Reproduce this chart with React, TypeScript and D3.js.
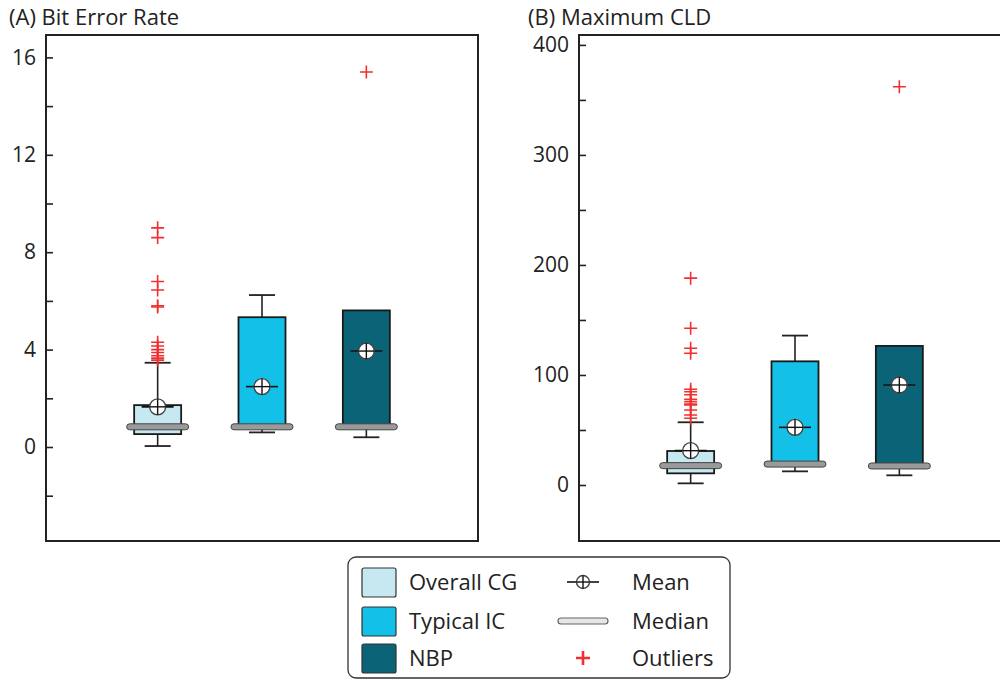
import React, { useEffect, useRef } from "react";
import * as d3 from "d3";

// groups shown in each panel
const groups = ["Overall CG", "Typical IC", "NBP"];
const groupColors = ["#c6e8f1", "#12c0e8", "#0b6378"];

// (A) Bit Error Rate box statistics
const berLow = [0.04, 0.6, 0.4];
const berQ1 = [0.53, 0.83, 0.83];
const berMedian = [0.83, 0.83, 0.83];
const berQ3 = [1.72, 5.33, 5.61];
const berHigh = [3.46, 6.24, 5.61];
const berMean = [1.65, 2.48, 3.94];
const berOutliers = [
  [9.0, 8.6, 6.8, 6.45, 5.8, 5.75, 4.3, 4.15, 4.0, 3.88, 3.75, 3.65, 3.57],
  [],
  [15.4],
];
const berMajorTicks = [0, 4, 8, 12, 16];
const berMinorTicks = [-2, 2, 6, 10, 14];

// (B) Maximum CLD box statistics
const cldLow = [1.5, 12.4, 8.8];
const cldQ1 = [10.6, 19, 17.3];
const cldMedian = [17.6, 19, 17.3];
const cldQ3 = [30.9, 112.4, 126.4];
const cldHigh = [57, 135.8, 126.4];
const cldMean = [31.2, 52.4, 90.9];
const cldOutliers = [
  [188, 142.4, 124.3, 119.7, 87, 84.8, 82, 78, 75.8, 73.5, 72.7, 68.2, 63.6, 60.6],
  [],
  [362],
];
const cldMajorTicks = [0, 100, 200, 300, 400];
const cldMinorTicks = [50, 150, 250, 350];

const FONT = "'Open Sans', 'Noto Sans', sans-serif";
const INK = "#222";

type Panel = {
  title: string;
  titleX: number;
  left: number;
  domain: [number, number];
  low: number[];
  q1: number[];
  median: number[];
  q3: number[];
  high: number[];
  mean: number[];
  outliers: number[][];
  major: number[];
  minor: number[];
};

const panels: Panel[] = [
  {
    title: "(A) Bit Error Rate",
    titleX: 9,
    left: 46,
    domain: [-3.86, 16.92],
    low: berLow,
    q1: berQ1,
    median: berMedian,
    q3: berQ3,
    high: berHigh,
    mean: berMean,
    outliers: berOutliers,
    major: berMajorTicks,
    minor: berMinorTicks,
  },
  {
    title: "(B) Maximum CLD",
    titleX: 528,
    left: 579,
    domain: [-50.9, 409],
    low: cldLow,
    q1: cldQ1,
    median: cldMedian,
    q3: cldQ3,
    high: cldHigh,
    mean: cldMean,
    outliers: cldOutliers,
    major: cldMajorTicks,
    minor: cldMinorTicks,
  },
];

const drawMean = (g, cx, cy, r = 8, arm = 16) => {
  g.append("line")
    .attr("x1", cx - arm).attr("x2", cx + arm)
    .attr("y1", cy).attr("y2", cy)
    .attr("stroke", "#111").attr("stroke-width", 1.6);
  g.append("circle")
    .attr("cx", cx).attr("cy", cy).attr("r", r)
    .attr("fill", "#fff").attr("stroke", "#444").attr("stroke-width", 1.4);
  g.append("line")
    .attr("x1", cx - r).attr("x2", cx + r)
    .attr("y1", cy).attr("y2", cy)
    .attr("stroke", "#111").attr("stroke-width", 1.4);
  g.append("line")
    .attr("x1", cx).attr("x2", cx)
    .attr("y1", cy - r).attr("y2", cy + r)
    .attr("stroke", "#111").attr("stroke-width", 1.4);
};

const drawCross = (g, cx, cy, s = 6.5) => {
  g.append("path")
    .attr("d", `M${cx - s},${cy}H${cx + s}M${cx},${cy - s}V${cy + s}`)
    .attr("stroke", "#f03030")
    .attr("stroke-width", 1.6)
    .attr("fill", "none");
};

const App = () => {
  const svgRef = useRef(null);

  useEffect(() => {
    const width = 1000;
    const height = 680;
    const top = 35;
    const bottom = 541;
    const plotW = 432;
    const boxW = 47;
    const capW = 26;

    const svg = d3.select(svgRef.current);
    svg.selectAll("*").remove();
    svg.attr("width", width).attr("height", height);

    panels.forEach((p) => {
      const g = svg.append("g");
      const x = d3.scalePoint().domain(groups).range([p.left, p.left + plotW]).padding(1.07);
      const y = d3.scaleLinear().domain(p.domain).range([bottom, top]);

      // 标题
      g.append("text")
        .attr("x", p.titleX)
        .attr("y", 25)
        .attr("font-family", FONT)
        .attr("font-size", 22)
        .attr("fill", INK)
        .text(p.title);

      // 边框
      g.append("path")
        .attr("d", `M${p.left},${top}H${p.left + plotW}V${bottom}H${p.left}Z`)
        .attr("fill", "none")
        .attr("stroke", INK)
        .attr("stroke-width", 2);

      // 主刻度
      const yAxis = g
        .append("g")
        .attr("transform", `translate(${p.left},0)`)
        .call(d3.axisLeft(y).tickValues(p.major).tickSizeInner(-7).tickSizeOuter(0).tickPadding(10));
      yAxis.select(".domain").remove();
      yAxis.selectAll(".tick line").attr("stroke", INK).attr("stroke-width", 1.6);
      yAxis.selectAll("text")
        .attr("font-family", FONT)
        .attr("font-size", 21)
        .attr("fill", INK);

      // 次刻度
      const minorAxis = g
        .append("g")
        .attr("transform", `translate(${p.left},0)`)
        .call(d3.axisLeft(y).tickValues(p.minor).tickSizeInner(-7).tickSizeOuter(0).tickFormat(() => ""));
      minorAxis.select(".domain").remove();
      minorAxis.selectAll(".tick line").attr("stroke", INK).attr("stroke-width", 1.6);

      groups.forEach((name, i) => {
        const cx = x(name);
        const bg = g.append("g");

        // 须线
        bg.append("line")
          .attr("x1", cx).attr("x2", cx)
          .attr("y1", y(p.high[i])).attr("y2", y(p.q3[i]))
          .attr("stroke", INK).attr("stroke-width", 1.6);
        bg.append("line")
          .attr("x1", cx).attr("x2", cx)
          .attr("y1", y(p.q1[i])).attr("y2", y(p.low[i]))
          .attr("stroke", INK).attr("stroke-width", 1.6);
        [p.high[i], p.low[i]].forEach((v, k) => {
          if (k === 0 && p.high[i] <= p.q3[i]) return; // 无上须
          bg.append("line")
            .attr("x1", cx - capW / 2).attr("x2", cx + capW / 2)
            .attr("y1", y(v)).attr("y2", y(v))
            .attr("stroke", INK).attr("stroke-width", 1.8);
        });

        // 箱体
        bg.append("rect")
          .attr("x", cx - boxW / 2)
          .attr("y", y(p.q3[i]))
          .attr("width", boxW)
          .attr("height", Math.max(1, y(p.q1[i]) - y(p.q3[i])))
          .attr("fill", groupColors[i])
          .attr("stroke", "#1a1a1a")
          .attr("stroke-width", 1.8);

        // 中位数
        bg.append("rect")
          .attr("x", cx - 31)
          .attr("y", y(p.median[i]) - 3)
          .attr("width", 62)
          .attr("height", 6)
          .attr("rx", 3)
          .attr("fill", "#9a9a9a")
          .attr("stroke", "#444")
          .attr("stroke-width", 1);

        // 异常值
        p.outliers[i].forEach((v) => drawCross(bg, cx, y(v)));

        // 均值
        drawMean(bg, cx, y(p.mean[i]));
      });
    });

    // 图例
    const lg = svg.append("g");
    lg.append("rect")
      .attr("x", 348).attr("y", 557)
      .attr("width", 382).attr("height", 121)
      .attr("rx", 8)
      .attr("fill", "#fff")
      .attr("stroke", "#333")
      .attr("stroke-width", 1.3);

    const rowY = [582, 621, 658];
    groups.forEach((name, i) => {
      lg.append("rect")
        .attr("x", 362).attr("y", rowY[i] - 14)
        .attr("width", 34).attr("height", 29)
        .attr("rx", 2)
        .attr("fill", groupColors[i])
        .attr("stroke", "#333")
        .attr("stroke-width", 1.2);
      lg.append("text")
        .attr("x", 409).attr("y", rowY[i])
        .attr("dy", "0.35em")
        .attr("font-family", FONT)
        .attr("font-size", 22)
        .attr("fill", INK)
        .text(name);
    });

    drawMean(lg, 583, rowY[0], 6.5, 16);
    lg.append("rect")
      .attr("x", 558).attr("y", rowY[1] - 3)
      .attr("width", 50).attr("height", 6)
      .attr("rx", 3)
      .attr("fill", "#e6e6e6")
      .attr("stroke", "#666")
      .attr("stroke-width", 1.2);
    lg.append("path")
      .attr("d", `M${576},${rowY[2]}H${590}M${583},${rowY[2] - 7}V${rowY[2] + 7}`)
      .attr("stroke", "#f03030")
      .attr("stroke-width", 2.6);

    ["Mean", "Median", "Outliers"].forEach((t, i) => {
      lg.append("text")
        .attr("x", 632).attr("y", rowY[i])
        .attr("dy", "0.35em")
        .attr("font-family", FONT)
        .attr("font-size", 22)
        .attr("fill", INK)
        .text(t);
    });
  }, []);

  return (
    <div style={{ position: "absolute", left: 0, top: 0, background: "#fff" }}>
      <svg ref={svgRef} style={{ display: "block" }} />
    </div>
  );
};

export default App;
